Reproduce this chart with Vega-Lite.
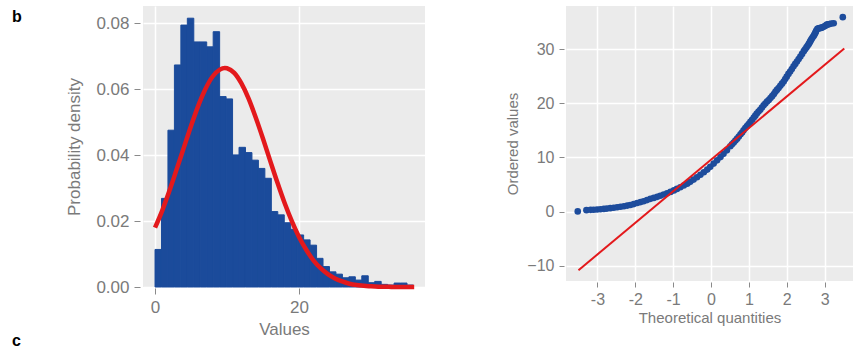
{
  "$schema": "https://vega.github.io/schema/vega-lite/v6.json",
  "padding": {"left": 12, "top": 6, "right": 0, "bottom": 0},
  "spacing": 80,
  "datasets": {
    "bars": [
      {"start": 0, "end": 0.898, "density": 0.0114},
      {"start": 0.898, "end": 1.795, "density": 0.0269},
      {"start": 1.795, "end": 2.693, "density": 0.0476},
      {"start": 2.693, "end": 3.59, "density": 0.0674},
      {"start": 3.59, "end": 4.488, "density": 0.0795},
      {"start": 4.488, "end": 5.385, "density": 0.0816},
      {"start": 5.385, "end": 6.283, "density": 0.0744},
      {"start": 6.283, "end": 7.18, "density": 0.0744},
      {"start": 7.18, "end": 8.078, "density": 0.0729},
      {"start": 8.078, "end": 8.975, "density": 0.0775},
      {"start": 8.975, "end": 9.873, "density": 0.0578},
      {"start": 9.873, "end": 10.77, "density": 0.0571},
      {"start": 10.77, "end": 11.668, "density": 0.0401},
      {"start": 11.668, "end": 12.565, "density": 0.0424},
      {"start": 12.565, "end": 13.463, "density": 0.0408},
      {"start": 13.463, "end": 14.36, "density": 0.0385},
      {"start": 14.36, "end": 15.258, "density": 0.036},
      {"start": 15.258, "end": 16.155, "density": 0.033},
      {"start": 16.155, "end": 17.053, "density": 0.0229},
      {"start": 17.053, "end": 17.95, "density": 0.0219},
      {"start": 17.95, "end": 18.848, "density": 0.0195},
      {"start": 18.848, "end": 19.745, "density": 0.0175},
      {"start": 19.745, "end": 20.643, "density": 0.0158},
      {"start": 20.643, "end": 21.54, "density": 0.0143},
      {"start": 21.54, "end": 22.438, "density": 0.0127},
      {"start": 22.438, "end": 23.335, "density": 0.0087},
      {"start": 23.335, "end": 24.233, "density": 0.0062},
      {"start": 24.233, "end": 25.13, "density": 0.0046},
      {"start": 25.13, "end": 26.028, "density": 0.0039},
      {"start": 26.028, "end": 26.925, "density": 0.0028},
      {"start": 26.925, "end": 27.823, "density": 0.0031},
      {"start": 27.823, "end": 28.72, "density": 0.0021},
      {"start": 28.72, "end": 29.618, "density": 0.0034},
      {"start": 29.618, "end": 30.515, "density": 0.0013},
      {"start": 30.515, "end": 31.413, "density": 0.0017},
      {"start": 31.413, "end": 32.31, "density": 0.0008},
      {"start": 32.31, "end": 33.208, "density": 0.0006},
      {"start": 33.208, "end": 34.105, "density": 0.0012},
      {"start": 34.105, "end": 35.003, "density": 0.0012},
      {"start": 35.003, "end": 35.9, "density": 0.0006}
    ],
    "curve": [
      {"x": 0, "pdf": 0.018}, {"x": 1, "pdf": 0.0232}, {"x": 2, "pdf": 0.0292},
      {"x": 3, "pdf": 0.0357}, {"x": 4, "pdf": 0.0423}, {"x": 5, "pdf": 0.0489},
      {"x": 6, "pdf": 0.055}, {"x": 7, "pdf": 0.0601}, {"x": 8, "pdf": 0.0639},
      {"x": 9, "pdf": 0.066}, {"x": 9.7, "pdf": 0.0665}, {"x": 10, "pdf": 0.0664},
      {"x": 11, "pdf": 0.065}, {"x": 12, "pdf": 0.0618}, {"x": 13, "pdf": 0.0572},
      {"x": 14, "pdf": 0.0514}, {"x": 15, "pdf": 0.045}, {"x": 16, "pdf": 0.0383},
      {"x": 17, "pdf": 0.0317}, {"x": 18, "pdf": 0.0255}, {"x": 19, "pdf": 0.02},
      {"x": 20, "pdf": 0.0152}, {"x": 21, "pdf": 0.0113}, {"x": 22, "pdf": 0.0081},
      {"x": 23, "pdf": 0.0057}, {"x": 24, "pdf": 0.0039}, {"x": 25, "pdf": 0.0026},
      {"x": 26, "pdf": 0.0017}, {"x": 27, "pdf": 0.001}, {"x": 28, "pdf": 0.0006},
      {"x": 29, "pdf": 0.0004}, {"x": 30, "pdf": 0.0002}, {"x": 31, "pdf": 0.0001},
      {"x": 32, "pdf": 0.0001}, {"x": 33, "pdf": 0.0}, {"x": 34, "pdf": 0.0},
      {"x": 35, "pdf": 0.0}, {"x": 36, "pdf": 0.0}
    ],
    "qq": [
      {"tq": -3.52, "ov": 0.02}, {"tq": -3.29, "ov": 0.25}, {"tq": -3.18, "ov": 0.31},
      {"tq": -3.1, "ov": 0.34}, {"tq": -3.01, "ov": 0.37}, {"tq": -2.92, "ov": 0.43},
      {"tq": -2.83, "ov": 0.49}, {"tq": -2.75, "ov": 0.55}, {"tq": -2.66, "ov": 0.62},
      {"tq": -2.57, "ov": 0.7}, {"tq": -2.48, "ov": 0.8}, {"tq": -2.39, "ov": 0.89},
      {"tq": -2.3, "ov": 0.98}, {"tq": -2.21, "ov": 1.1}, {"tq": -2.13, "ov": 1.2},
      {"tq": -2.04, "ov": 1.38}, {"tq": -1.95, "ov": 1.57}, {"tq": -1.86, "ov": 1.74},
      {"tq": -1.78, "ov": 1.91}, {"tq": -1.69, "ov": 2.12}, {"tq": -1.6, "ov": 2.34},
      {"tq": -1.51, "ov": 2.52}, {"tq": -1.42, "ov": 2.71}, {"tq": -1.34, "ov": 2.92},
      {"tq": -1.25, "ov": 3.14}, {"tq": -1.16, "ov": 3.38}, {"tq": -1.07, "ov": 3.63},
      {"tq": -0.98, "ov": 3.9}, {"tq": -0.9, "ov": 4.18}, {"tq": -0.81, "ov": 4.48},
      {"tq": -0.72, "ov": 4.8}, {"tq": -0.63, "ov": 5.13}, {"tq": -0.55, "ov": 5.48},
      {"tq": -0.46, "ov": 5.9}, {"tq": -0.37, "ov": 6.34}, {"tq": -0.28, "ov": 6.8},
      {"tq": -0.19, "ov": 7.26}, {"tq": -0.1, "ov": 7.75}, {"tq": -0.02, "ov": 8.25},
      {"tq": 0.07, "ov": 8.85}, {"tq": 0.16, "ov": 9.45}, {"tq": 0.25, "ov": 10.05},
      {"tq": 0.33, "ov": 10.65}, {"tq": 0.42, "ov": 11.3}, {"tq": 0.51, "ov": 12.05},
      {"tq": 0.555, "ov": 12.4}, {"tq": 0.6, "ov": 12.75}, {"tq": 0.645, "ov": 13.1},
      {"tq": 0.69, "ov": 13.45}, {"tq": 0.735, "ov": 13.85}, {"tq": 0.78, "ov": 14.25},
      {"tq": 0.82, "ov": 14.6}, {"tq": 0.86, "ov": 15.0}, {"tq": 0.905, "ov": 15.4},
      {"tq": 0.95, "ov": 15.8}, {"tq": 0.995, "ov": 16.15}, {"tq": 1.04, "ov": 16.55},
      {"tq": 1.085, "ov": 16.95}, {"tq": 1.13, "ov": 17.35}, {"tq": 1.17, "ov": 17.7},
      {"tq": 1.21, "ov": 18.1}, {"tq": 1.255, "ov": 18.45}, {"tq": 1.3, "ov": 18.8},
      {"tq": 1.345, "ov": 19.2}, {"tq": 1.39, "ov": 19.6}, {"tq": 1.435, "ov": 19.95},
      {"tq": 1.48, "ov": 20.3}, {"tq": 1.525, "ov": 20.6}, {"tq": 1.57, "ov": 20.95},
      {"tq": 1.615, "ov": 21.3}, {"tq": 1.66, "ov": 21.7}, {"tq": 1.7, "ov": 22.1},
      {"tq": 1.74, "ov": 22.45}, {"tq": 1.785, "ov": 22.8}, {"tq": 1.83, "ov": 23.2},
      {"tq": 1.875, "ov": 23.6}, {"tq": 1.92, "ov": 24.0}, {"tq": 1.96, "ov": 24.45},
      {"tq": 2.0, "ov": 24.9}, {"tq": 2.045, "ov": 25.4}, {"tq": 2.09, "ov": 25.85},
      {"tq": 2.135, "ov": 26.3}, {"tq": 2.18, "ov": 26.8}, {"tq": 2.225, "ov": 27.25},
      {"tq": 2.27, "ov": 27.7}, {"tq": 2.315, "ov": 28.15}, {"tq": 2.36, "ov": 28.6},
      {"tq": 2.405, "ov": 29.1}, {"tq": 2.45, "ov": 29.6}, {"tq": 2.485, "ov": 29.95},
      {"tq": 2.52, "ov": 30.3}, {"tq": 2.55, "ov": 30.6}, {"tq": 2.58, "ov": 30.9},
      {"tq": 2.6, "ov": 31.15}, {"tq": 2.62, "ov": 31.4}, {"tq": 2.64, "ov": 31.65},
      {"tq": 2.66, "ov": 31.9}, {"tq": 2.685, "ov": 32.15}, {"tq": 2.71, "ov": 32.4},
      {"tq": 2.73, "ov": 32.65}, {"tq": 2.75, "ov": 32.9}, {"tq": 2.765, "ov": 33.15},
      {"tq": 2.78, "ov": 33.4}, {"tq": 2.81, "ov": 33.75}, {"tq": 2.84, "ov": 33.8},
      {"tq": 2.87, "ov": 33.85}, {"tq": 2.9, "ov": 33.9}, {"tq": 2.93, "ov": 33.95},
      {"tq": 2.96, "ov": 34.05}, {"tq": 3.0, "ov": 34.2}, {"tq": 3.03, "ov": 34.35},
      {"tq": 3.06, "ov": 34.5}, {"tq": 3.09, "ov": 34.55}, {"tq": 3.13, "ov": 34.6},
      {"tq": 3.18, "ov": 34.7}, {"tq": 3.24, "ov": 34.75}, {"tq": 3.48, "ov": 35.88}
    ],
    "qqline": [
      {"tq": -3.5, "ov": -10.83},
      {"tq": 3.52, "ov": 30.09}
    ],
    "labels": [
      {"label": "b", "lx": -19.86, "ly": 0.0804},
      {"label": "c", "lx": -19.86, "ly": -0.0179}
    ]
  },
  "hconcat": [
    {
      "width": 282,
      "height": 281,
      "layer": [
        {
          "data": {"name": "bars"},
          "mark": {"type": "rect", "color": "#1b4b9b", "stroke": "#1b4b9b", "strokeWidth": 1},
          "encoding": {
            "x": {"field": "start", "type": "quantitative",
                  "scale": {"domain": [-1.67, 37.5], "nice": false, "zero": false},
                  "axis": {"values": [0, 20], "title": "Values", "labelFontSize": 17, "titleFontSize": 17,
                           "offset": 1, "tickSize": 6, "labelPadding": 5, "titlePadding": 6}},
            "x2": {"field": "end"},
            "y": {"field": "density", "type": "quantitative",
                  "scale": {"domain": [0, 0.0853], "nice": false, "zero": false},
                  "axis": {"values": [0, 0.02, 0.04, 0.06, 0.08], "format": ".2f", "title": "Probability density",
                           "labelFontSize": 17, "titleFontSize": 17, "offset": 3, "tickSize": 6,
                           "labelPadding": 5, "titlePadding": 12}},
            "y2": {"datum": 0}
          }
        },
        {
          "data": {"name": "curve"},
          "mark": {"type": "line", "color": "#e3191c", "strokeWidth": 4.5, "interpolate": "monotone"},
          "encoding": {
            "x": {"field": "x", "type": "quantitative"},
            "y": {"field": "pdf", "type": "quantitative"}
          }
        },
        {
          "data": {"name": "labels"},
          "mark": {"type": "text", "align": "left", "baseline": "alphabetic", "fontWeight": "bold",
                   "fontSize": 16, "font": "Liberation Sans", "color": "#000000"},
          "encoding": {
            "x": {"field": "lx", "type": "quantitative"},
            "y": {"field": "ly", "type": "quantitative"},
            "text": {"field": "label"}
          }
        }
      ]
    },
    {
      "width": 287,
      "height": 275,
      "layer": [
        {
          "data": {"name": "qq"},
          "mark": {"type": "circle", "size": 44, "opacity": 1, "color": "#1d4c9c"},
          "encoding": {
            "x": {"field": "tq", "type": "quantitative",
                  "scale": {"domain": [-3.83, 3.75], "nice": false, "zero": false},
                  "axis": {"values": [-3, -2, -1, 0, 1, 2, 3], "title": "Theoretical quantities",
                           "labelExpr": "replace(datum.label, '−', '-')",
                           "labelFontSize": 16, "titleFontSize": 15, "offset": 1, "tickSize": 5,
                           "labelPadding": 4, "titlePadding": 3}},
            "y": {"field": "ov", "type": "quantitative",
                  "scale": {"domain": [-12.82, 37.94], "nice": false, "zero": false},
                  "axis": {"values": [-10, 0, 10, 20, 30], "title": "Ordered values",
                           "labelFontSize": 16, "titleFontSize": 15, "offset": 2, "tickSize": 5,
                           "labelPadding": 5, "titlePadding": 6}}
          }
        },
        {
          "data": {"name": "qqline"},
          "mark": {"type": "line", "color": "#e3191c", "strokeWidth": 2},
          "encoding": {
            "x": {"field": "tq", "type": "quantitative"},
            "y": {"field": "ov", "type": "quantitative"}
          }
        }
      ]
    }
  ],
  "config": {
    "view": {"fill": "#ebebeb", "stroke": null},
    "axis": {
      "domain": false,
      "gridColor": "#ffffff",
      "gridWidth": 1.5,
      "tickColor": "#8a8a8a",
      "tickWidth": 1,
      "labelColor": "#7a7a7a",
      "titleColor": "#7a7a7a",
      "labelFont": "Liberation Sans",
      "titleFont": "Liberation Sans",
      "titleFontWeight": "normal"
    }
  }
}
